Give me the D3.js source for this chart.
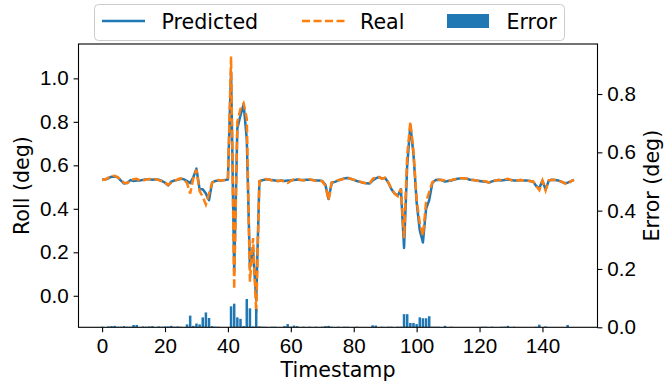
<!DOCTYPE html>
<html>
<head>
<meta charset="utf-8">
<script src="https://cdn.jsdelivr.net/npm/d3@7"></script>
<style>
  body { margin: 0; background: #fff; }
  svg { display: block; font-family: "DejaVu Sans", sans-serif; }
  .tick text { font-size: 20.6px; fill: #000; }
  .axis-label { font-size: 20.6px; fill: #000; }
  .legend text { font-size: 20.6px; fill: #000; }
</style>
</head>
<body>
<svg id="chart" width="665" height="386"></svg>
<script>
'use strict'

// predicted roll, t = 0..150
const predicted = [
  0.535, 0.535, 0.540, 0.548, 0.548, 0.545, 0.530, 0.516, 0.520, 0.532,
  0.528, 0.530, 0.530, 0.533, 0.536, 0.536, 0.534, 0.536, 0.534, 0.528,
  0.520, 0.508, 0.525, 0.530, 0.533, 0.538, 0.536, 0.528, 0.518, 0.545,
  0.585, 0.490, 0.490, 0.470, 0.440, 0.522, 0.528, 0.530, 0.530, 0.532,
  0.535, 1.030, 0.110, 0.770, 0.830, 0.880, 0.720, 0.130, 0.210, -0.020,
  0.525, 0.532, 0.535, 0.535, 0.532, 0.530, 0.528, 0.530, 0.528, 0.530,
  0.530, 0.532, 0.535, 0.533, 0.532, 0.534, 0.534, 0.532, 0.530, 0.530,
  0.528, 0.510, 0.445, 0.520, 0.524, 0.530, 0.535, 0.540, 0.542, 0.538,
  0.533, 0.528, 0.524, 0.520, 0.518, 0.516, 0.530, 0.540, 0.546, 0.540,
  0.542, 0.520, 0.490, 0.470, 0.460, 0.490, 0.220, 0.600, 0.785, 0.650,
  0.430, 0.300, 0.245, 0.400, 0.440, 0.520, 0.532, 0.534, 0.532, 0.525,
  0.528, 0.530, 0.535, 0.538, 0.540, 0.540, 0.538, 0.534, 0.532, 0.530,
  0.528, 0.526, 0.524, 0.521, 0.526, 0.530, 0.532, 0.530, 0.533, 0.535,
  0.532, 0.530, 0.530, 0.532, 0.530, 0.530, 0.528, 0.526, 0.505, 0.495,
  0.530, 0.488, 0.530, 0.534, 0.532, 0.530, 0.525, 0.518, 0.520, 0.526,
  0.533,
]

// real roll, t = 0..150
const real = [
  0.533, 0.535, 0.543, 0.550, 0.552, 0.545, 0.532, 0.520, 0.518, 0.530,
  0.536, 0.538, 0.530, 0.530, 0.535, 0.537, 0.538, 0.536, 0.532, 0.526,
  0.522, 0.510, 0.520, 0.528, 0.535, 0.540, 0.535, 0.518, 0.470, 0.540,
  0.580, 0.482, 0.455, 0.420, 0.470, 0.520, 0.530, 0.532, 0.530, 0.532,
  0.535, 1.100, 0.030, 0.800, 0.860, 0.885, 0.815, 0.065, 0.265, -0.080,
  0.528, 0.534, 0.537, 0.535, 0.530, 0.528, 0.528, 0.530, 0.524, 0.519,
  0.528, 0.536, 0.538, 0.533, 0.530, 0.534, 0.536, 0.532, 0.528, 0.530,
  0.526, 0.506, 0.440, 0.522, 0.524, 0.532, 0.535, 0.538, 0.544, 0.538,
  0.534, 0.530, 0.525, 0.520, 0.517, 0.515, 0.537, 0.546, 0.546, 0.538,
  0.543, 0.522, 0.492, 0.470, 0.458, 0.492, 0.265, 0.645, 0.800, 0.665,
  0.441, 0.334, 0.276, 0.431, 0.478, 0.522, 0.534, 0.534, 0.532, 0.530,
  0.528, 0.532, 0.536, 0.538, 0.540, 0.540, 0.538, 0.534, 0.532, 0.530,
  0.528, 0.528, 0.526, 0.521, 0.524, 0.530, 0.532, 0.532, 0.535, 0.538,
  0.532, 0.530, 0.530, 0.532, 0.530, 0.530, 0.528, 0.526, 0.505, 0.486,
  0.530, 0.485, 0.530, 0.534, 0.532, 0.530, 0.525, 0.518, 0.512, 0.526,
  0.533,
]

// absolute error, t = 0..150
const error = [
  0.002, 0.001, 0.003, 0.004, 0.005, 0.002, 0.002, 0.004, 0.002, 0.002,
  0.008, 0.008, 0.001, 0.003, 0.002, 0.003, 0.004, 0.001, 0.003, 0.002,
  0.003, 0.003, 0.005, 0.002, 0.003, 0.002, 0.001, 0.010, 0.040, 0.005,
  0.013, 0.010, 0.034, 0.051, 0.032, 0.004, 0.002, 0.002, 0.000, 0.000,
  0.000, 0.072, 0.081, 0.034, 0.029, 0.004, 0.097, 0.065, 0.003, 0.063,
  0.003, 0.002, 0.002, 0.000, 0.002, 0.002, 0.000, 0.001, 0.004, 0.011,
  0.002, 0.006, 0.004, 0.000, 0.002, 0.000, 0.002, 0.000, 0.002, 0.000,
  0.002, 0.004, 0.005, 0.002, 0.000, 0.002, 0.000, 0.002, 0.002, 0.000,
  0.001, 0.002, 0.001, 0.000, 0.001, 0.001, 0.007, 0.006, 0.000, 0.002,
  0.001, 0.002, 0.002, 0.000, 0.002, 0.002, 0.045, 0.045, 0.015, 0.015,
  0.011, 0.034, 0.031, 0.031, 0.038, 0.002, 0.002, 0.002, 0.000, 0.005,
  0.000, 0.002, 0.001, 0.000, 0.000, 0.000, 0.000, 0.000, 0.000, 0.000,
  0.000, 0.002, 0.002, 0.000, 0.002, 0.000, 0.000, 0.002, 0.002, 0.005,
  0.000, 0.002, 0.000, 0.000, 0.000, 0.000, 0.000, 0.000, 0.002, 0.009,
  0.000, 0.003, 0.000, 0.000, 0.000, 0.000, 0.000, 0.000, 0.008, 0.000,
  0.000,
]

const xTicks = [0, 20, 40, 60, 80, 100, 120, 140]
const rollTicks = [0.0, 0.2, 0.4, 0.6, 0.8, 1.0]
const errorTicks = [0.0, 0.2, 0.4, 0.6, 0.8]

const blue = '#1f77b4'
const orange = '#ff7f0e'

const plot = {left: 78.5, right: 597.5, top: 44, bottom: 327.3}

const svg = d3.select('#chart')

const x = d3.scaleLinear().domain([-7.5, 157.5]).range([plot.left, plot.right])
const yRoll = d3.scaleLinear().domain([-0.145, 1.158]).range([plot.bottom, plot.top])
const yErr = d3.scaleLinear().domain([0, 0.9715]).range([plot.bottom, plot.top])

const clip = svg.append('clipPath').attr('id', 'plot-clip')
clip.append('rect')
    .attr('x', plot.left)
    .attr('y', plot.top)
    .attr('width', plot.right - plot.left)
    .attr('height', plot.bottom - plot.top)

const body = svg.append('g').attr('clip-path', 'url(#plot-clip)')

const line = d3.line()
    .x(function (d, i) { return x(i) })
    .y(function (d) { return yRoll(d) })

body.append('path')
    .datum(predicted)
    .attr('d', line)
    .attr('fill', 'none')
    .attr('stroke', blue)
    .attr('stroke-width', 2.5)
    .attr('stroke-linejoin', 'round')

body.append('path')
    .datum(real)
    .attr('d', line)
    .attr('fill', 'none')
    .attr('stroke', orange)
    .attr('stroke-width', 2.5)
    .attr('stroke-dasharray', '8,3.5')

// twin axis bars drawn on top, like matplotlib's second axes
body.selectAll('rect.err')
    .data(error)
    .enter()
    .append('rect')
    .attr('class', 'err')
    .attr('x', function (d, i) { return x(i - 0.4) })
    .attr('width', x(0.8) - x(0))
    .attr('y', function (d) { return yErr(d) })
    .attr('height', function (d) { return yErr(0) - yErr(d) })
    .attr('fill', blue)

// axes
function styleAxis(g) {
    g.selectAll('.domain').remove()
    g.selectAll('.tick line').attr('stroke', '#000').attr('stroke-width', 1.1)
}

svg.append('g')
    .attr('transform', 'translate(0,' + plot.bottom + ')')
    .call(d3.axisBottom(x).tickValues(xTicks).tickSize(4.9).tickPadding(4.9).tickFormat(d3.format('d')))
    .call(styleAxis)
    .selectAll('text').attr('dy', '0.75em')

svg.append('g')
    .attr('transform', 'translate(' + plot.left + ',0)')
    .call(d3.axisLeft(yRoll).tickValues(rollTicks).tickSize(4.9).tickPadding(4.9).tickFormat(d3.format('.1f')))
    .call(styleAxis)

svg.append('g')
    .attr('transform', 'translate(' + plot.right + ',0)')
    .call(d3.axisRight(yErr).tickValues(errorTicks).tickSize(4.9).tickPadding(4.9).tickFormat(d3.format('.1f')))
    .call(styleAxis)

svg.append('rect')
    .attr('x', plot.left)
    .attr('y', plot.top)
    .attr('width', plot.right - plot.left)
    .attr('height', plot.bottom - plot.top)
    .attr('fill', 'none')
    .attr('stroke', '#000')
    .attr('stroke-width', 1.1)

svg.append('text')
    .attr('class', 'axis-label')
    .attr('x', (plot.left + plot.right) / 2)
    .attr('y', 377)
    .attr('text-anchor', 'middle')
    .text('Timestamp')

svg.append('text')
    .attr('class', 'axis-label')
    .attr('transform', 'translate(29,' + (plot.top + plot.bottom) / 2 + ') rotate(-90)')
    .attr('text-anchor', 'middle')
    .text('Roll (deg)')

svg.append('text')
    .attr('class', 'axis-label')
    .attr('transform', 'translate(659,' + (plot.top + plot.bottom) / 2 + ') rotate(-90)')
    .attr('text-anchor', 'middle')
    .text('Error (deg)')

// legend
const legend = svg.append('g').attr('class', 'legend')
legend.append('rect')
    .attr('x', 94.5)
    .attr('y', 4.5)
    .attr('width', 470)
    .attr('height', 36)
    .attr('rx', 4)
    .attr('fill', '#fff')
    .attr('fill-opacity', 0.8)
    .attr('stroke', '#ccc')

const legendY = 21
legend.append('line')
    .attr('x1', 102).attr('x2', 145)
    .attr('y1', legendY).attr('y2', legendY)
    .attr('stroke', blue).attr('stroke-width', 2.5)
legend.append('text').attr('x', 161.5).attr('y', 28.5).text('Predicted')

legend.append('line')
    .attr('x1', 302).attr('x2', 345)
    .attr('y1', legendY).attr('y2', legendY)
    .attr('stroke', orange).attr('stroke-width', 2.5)
    .attr('stroke-dasharray', '8,3.5')
legend.append('text').attr('x', 360).attr('y', 28.5).text('Real')

legend.append('rect')
    .attr('x', 447).attr('y', 14)
    .attr('width', 42).attr('height', 14)
    .attr('fill', blue)
legend.append('text').attr('x', 506.5).attr('y', 28.5).text('Error')
</script>
</body>
</html>
